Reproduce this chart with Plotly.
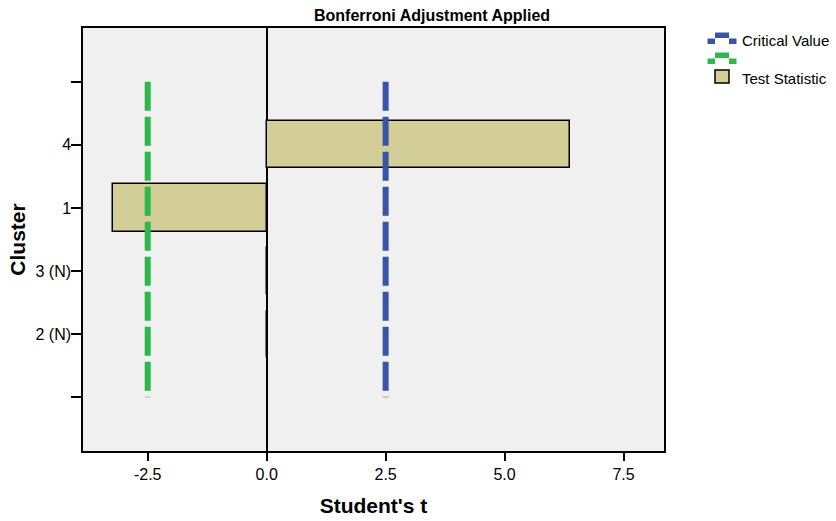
import plotly.graph_objects as go

# Cluster categories from top to bottom (blank rows pad the axis)
clusters = ["", "4", "1", "3 (N)", "2 (N)", " "]
test_statistic = [None, 6.37, -3.24, 0.0, 0.0, None]
critical_upper = [2.50, 2.50, 2.50, 2.50, 2.50, 2.50]
critical_lower = [-2.50, -2.50, -2.50, -2.50, -2.50, -2.50]
x_ticks = [-2.5, 0.0, 2.5, 5.0, 7.5]
x_tick_labels = ["-2.5", "0.0", "2.5", "5.0", "7.5"]

positions = list(range(len(clusters)))

BAR_FILL = "#D3CE97"
BLUE = "#3953A6"
GREEN = "#2DB84B"
FONT = "Liberation Sans, Arial, sans-serif"

W, H = 836, 521
L, R, T, B = 83, 172, 28, 70
PW, PH = W - L - R, H - T - B


def px(x):
    return (x - L) / PW


def py(y):
    return (H - B - y) / PH


fig = go.Figure()

fig.add_trace(go.Bar(
    x=test_statistic, y=positions, orientation="h", width=0.75,
    marker=dict(color=BAR_FILL, line=dict(color="black", width=1.5)),
    showlegend=False, hoverinfo="x",
))

for vals, col in [(critical_upper, BLUE), (critical_lower, GREEN)]:
    fig.add_trace(go.Scatter(
        x=vals, y=positions, mode="lines",
        line=dict(color=col, width=6, dash="29px,6px"),
        showlegend=False, hoverinfo="x",
    ))

# Legend drawn by hand: stepped dash icons and a swatch
shapes = []


def rect(x0, y0, x1, y1, fill, line=None):
    shapes.append(dict(
        type="rect", xref="paper", yref="paper",
        x0=px(x0), x1=px(x1), y0=py(y1), y1=py(y0),
        fillcolor=fill,
        line=dict(width=1.5 if line else 0, color=line or fill),
        layer="above",
    ))


for col, base in [(BLUE, 38.5), (GREEN, 58.5)]:
    rect(707.5, base, 715, base + 5.5, col)
    rect(715, base - 6, 729, base - 0.5, col)
    rect(729, base, 736.5, base + 5.5, col)
rect(715, 70, 729, 83, BAR_FILL, "black")

annotations = [
    dict(text="Critical Value", x=px(740), y=py(40), xref="paper", yref="paper",
         xanchor="left", yanchor="middle", showarrow=False,
         font=dict(family=FONT, size=15, color="black")),
    dict(text="Test Statistic", x=px(740), y=py(79), xref="paper", yref="paper",
         xanchor="left", yanchor="middle", showarrow=False,
         font=dict(family=FONT, size=15, color="black")),
    dict(text="<b>Bonferroni Adjustment Applied</b>", x=px(432), y=py(15),
         xref="paper", yref="paper", xanchor="center", yanchor="middle",
         showarrow=False, font=dict(family=FONT, size=16, color="black")),
]

fig.update_layout(
    width=W, height=H,
    margin=dict(l=L, r=R, t=T, b=B, autoexpand=False),
    paper_bgcolor="white", plot_bgcolor="#F0F0F0",
    showlegend=False, shapes=shapes, annotations=annotations,
    font=dict(family=FONT, color="black"),
    bargap=0,
)

fig.update_xaxes(
    range=[-3.86, 8.35], tickvals=x_ticks, ticktext=x_tick_labels,
    showgrid=False, zeroline=True, zerolinecolor="black", zerolinewidth=1.5,
    showline=True, linecolor="black", linewidth=1.5, mirror=True,
    ticks="outside", ticklen=8, tickwidth=1.5, tickcolor="black",
    tickfont=dict(size=16, family=FONT),
    title=dict(text="<b>Student's t</b>", font=dict(size=21, family=FONT), standoff=16),
    automargin=False,
)
fig.update_yaxes(
    range=[5.85, -0.85], tickvals=positions, ticktext=clusters,
    showgrid=False, zeroline=False,
    showline=True, linecolor="black", linewidth=1.5, mirror=True,
    ticks="outside", ticklen=10, tickwidth=1.5, tickcolor="black",
    tickfont=dict(size=16, family=FONT), ticklabelstandoff=-3,
    title=dict(text="<b>Cluster</b>", font=dict(size=21, family=FONT), standoff=4),
    automargin=False,
)

fig.write_html("out.html")
